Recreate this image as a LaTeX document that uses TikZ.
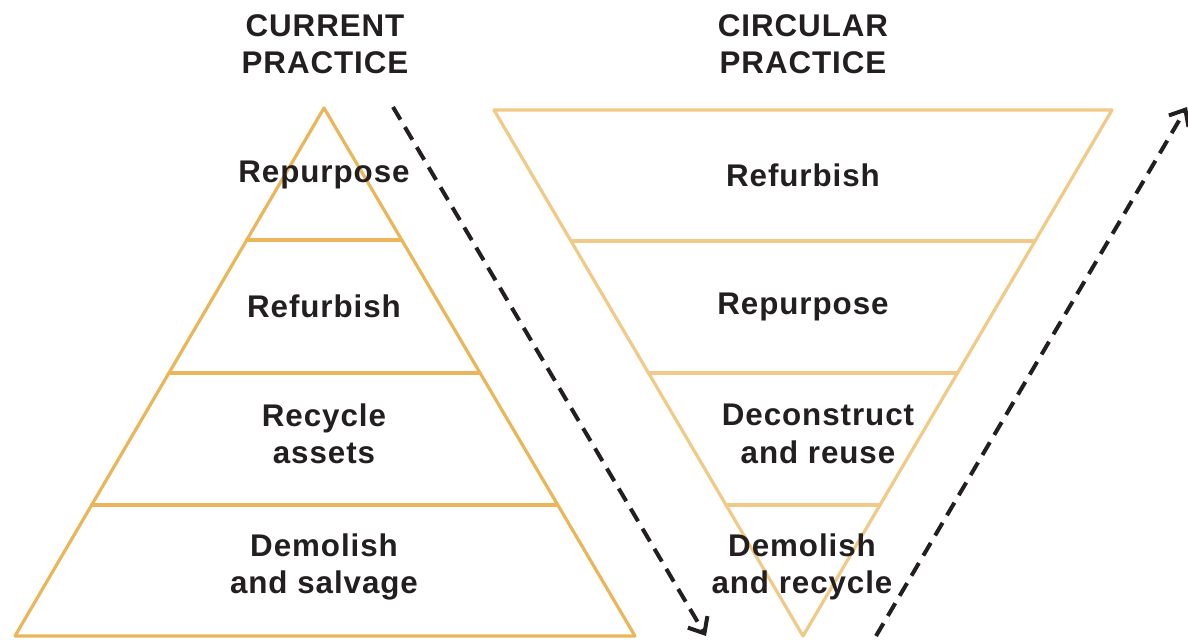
\documentclass[tikz,border=0pt]{standalone}
\usepackage{fontspec}
\setmainfont{Liberation Sans}[LetterSpace=3]
\usetikzlibrary{arrows.meta}
\definecolor{leftc}{HTML}{EBB65A}
\definecolor{rightc}{HTML}{F2CA88}
\definecolor{txt}{HTML}{231F20}
\begin{document}
\begin{tikzpicture}[x=0.75pt,y=-0.75pt,
  lbl/.style={font=\bfseries\fontsize{23.5}{28}\selectfont, text=txt, align=center, inner sep=0pt},
  leftline/.style={draw=leftc, line width=2.4pt, line join=round, line cap=round},
  rightline/.style={draw=rightc, line width=2.4pt, line join=round, line cap=round},
  flow/.style={draw=txt, line width=3pt, dash pattern=on 11pt off 6.5pt, -{Straight Barb[length=10pt,width=17pt,line width=3pt]}}]
\path[fill=white] (0,0) rectangle (1188,640);
\useasboundingbox (0,0) rectangle (1188,640);
% left pyramid
\path[leftline] (324,108) -- (15,636) -- (635,636) -- cycle;
\path[leftline] (246.7,240) -- (401.3,240);
\path[leftline] (169,373) -- (479,373);
\path[leftline] (91.6,505) -- (556.4,505);
% right inverted pyramid
\path[rightline] (494,110) -- (1112,110) -- (803,636) -- cycle;
\path[rightline] (571,241) -- (1035,241);
\path[rightline] (648.5,373) -- (957.5,373);
\path[rightline] (726,505) -- (880,505);
% titles
\node[lbl] (t1) at (325,44) {CURRENT\\PRACTICE};
\node[lbl] (t2) at (803,44) {CIRCULAR\\PRACTICE};
% left labels
\node[lbl] (l1) at (324,175) {Repurpose};
\node[lbl] (l2) at (324,306) {Refurbish};
\node[lbl] (l3) at (324,434) {Recycle\\assets};
\node[lbl] (l4) at (324,567) {Demolish\\and salvage};
% right labels
\node[lbl] (r1) at (803,175) {Refurbish};
\node[lbl] (r2) at (803,307) {Repurpose};
\node[lbl] (r3) at (818,434) {Deconstruct\\and reuse};
\node[lbl] (r4) at (802,567) {Demolish\\and recycle};
% arrows
\coordinate (a1s) at (393,107);
\coordinate (a1e) at (706,636);
\coordinate (a2s) at (876,636);
\coordinate (a2e) at (1187,107);
\draw[flow] (a1s) -- (a1e);
\draw[flow] (a2s) -- (a2e);
\end{tikzpicture}
\end{document}
